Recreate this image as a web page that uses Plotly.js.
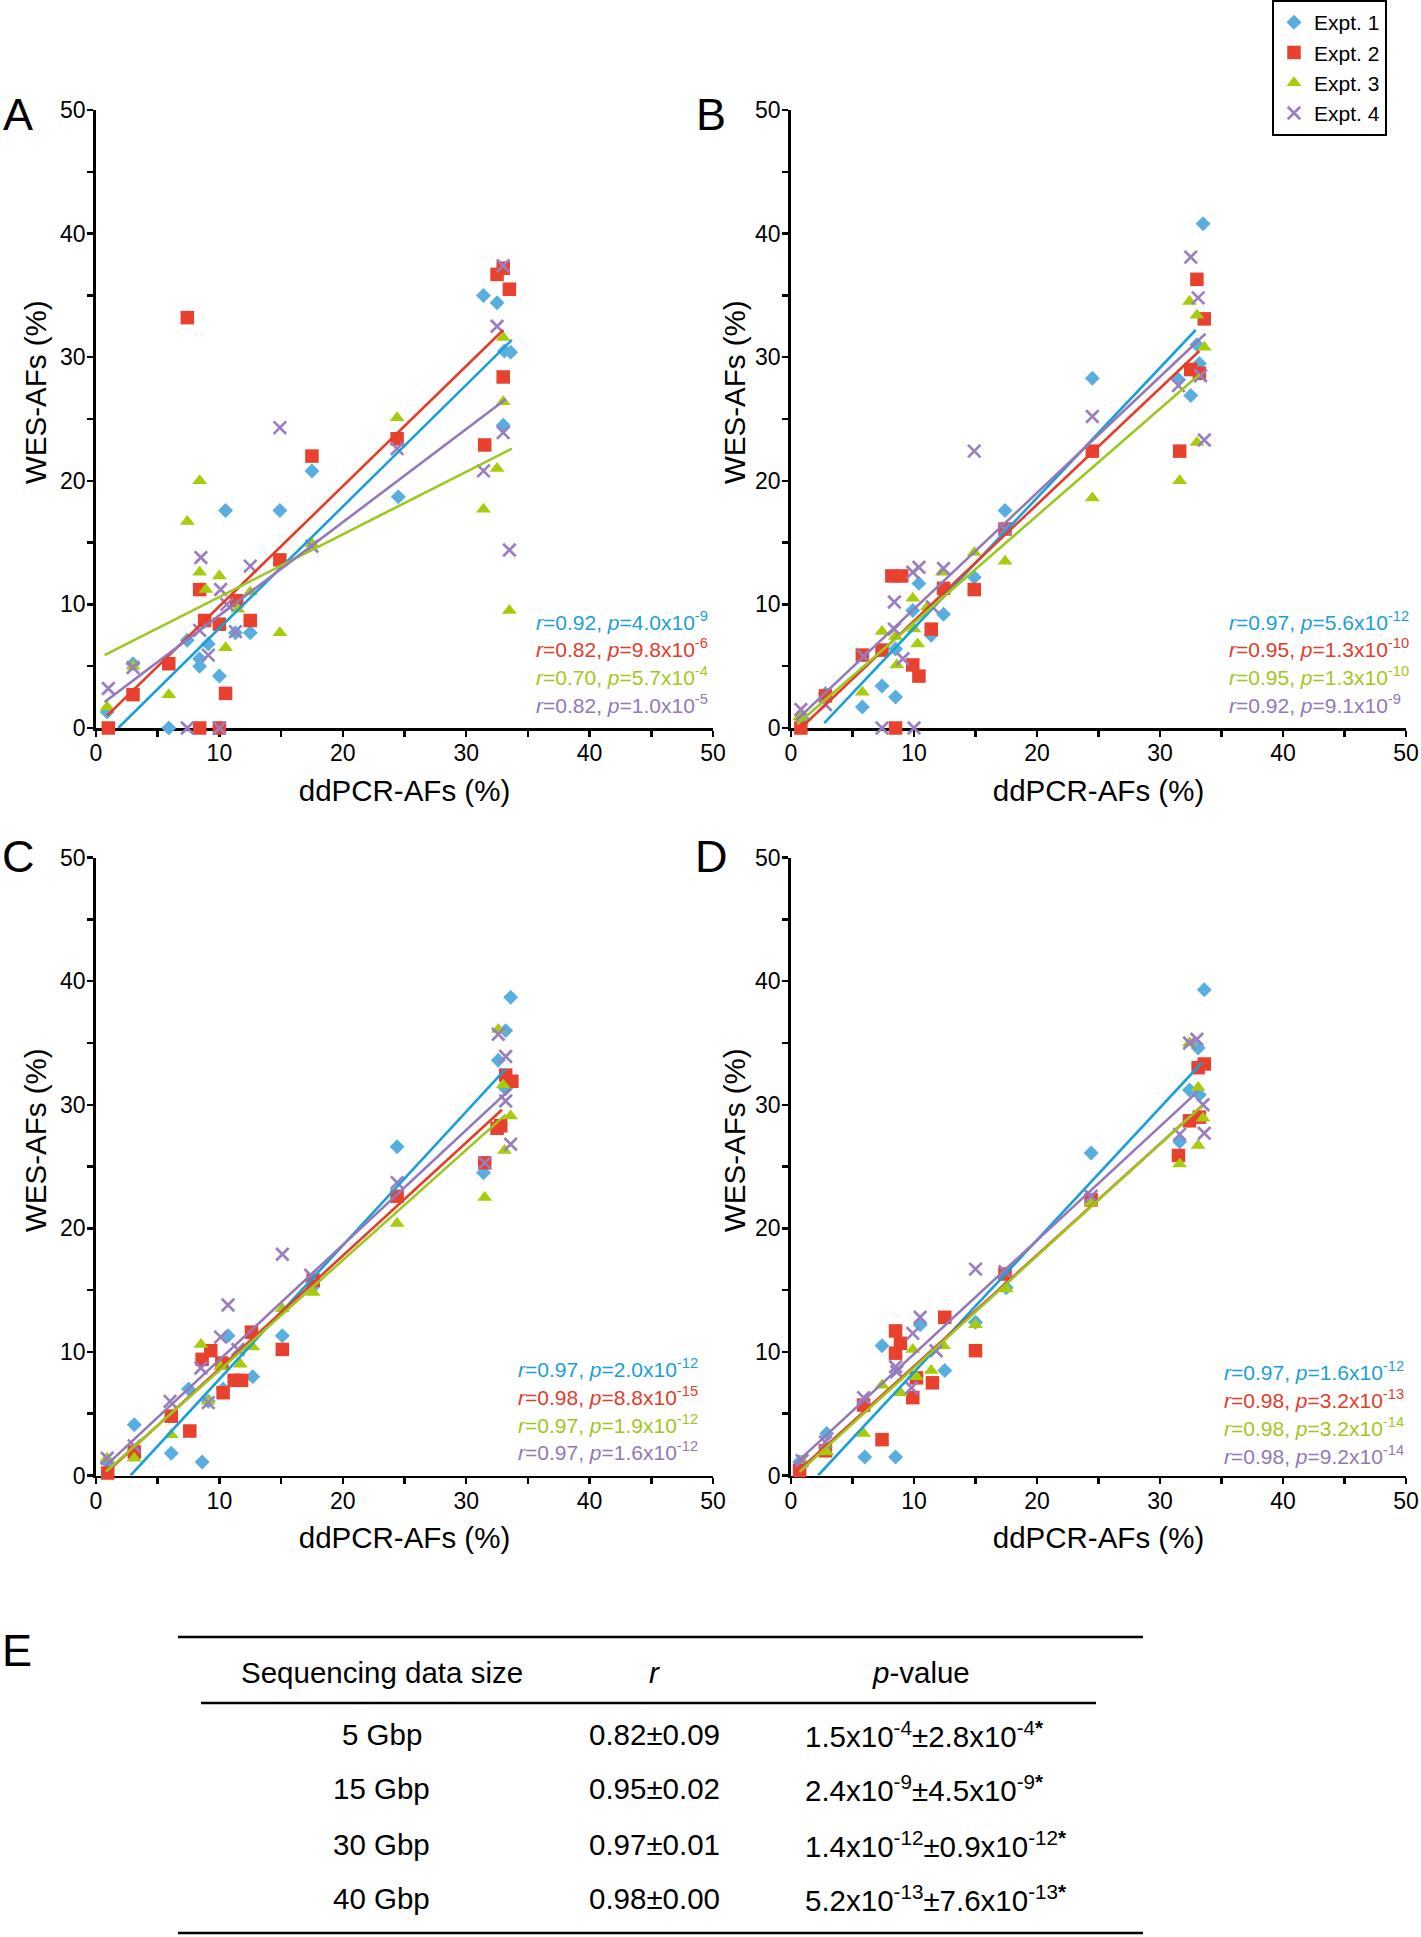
<!DOCTYPE html>
<html><head><meta charset="utf-8">
<script src="https://cdn.plot.ly/plotly-3.0.1.min.js"></script>
<style>html,body{margin:0;padding:0;background:#fff}#chart{width:1421px;height:1937px}</style>
</head><body><div id="chart"></div>
<script>
// ---------------- DATA ----------------
const exptNames = ['Expt. 1', 'Expt. 2', 'Expt. 3', 'Expt. 4'];

// Panel A (5 Gbp)
const A_x1 = [0.9, 3.0, 5.9, 7.4, 8.4, 8.4, 9.1, 10.0, 10.5, 11.3, 12.5, 14.9, 17.5, 24.5, 31.4, 32.5, 33.1, 33.6, 33.0];
const A_y1 = [1.3, 5.2, 0.0, 7.1, 5.6, 5.0, 6.8, 4.2, 17.6, 7.7, 7.7, 17.6, 20.8, 18.7, 35.0, 34.4, 30.5, 30.4, 24.5];
const A_x2 = [1.0, 3.0, 5.9, 7.4, 8.4, 8.4, 8.8, 10.0, 10.0, 10.5, 11.4, 12.5, 14.9, 17.5, 24.4, 32.5, 33.0, 33.5, 33.0, 31.5];
const A_y2 = [0.0, 2.7, 5.2, 33.2, 11.2, 0.0, 8.7, 8.4, 0.0, 2.8, 10.3, 8.7, 13.6, 22.0, 23.4, 36.7, 37.2, 35.5, 28.4, 22.9];
const A_x3 = [0.9, 3.0, 5.9, 7.4, 8.4, 8.4, 8.9, 10.0, 10.5, 11.5, 12.5, 14.9, 17.5, 24.4, 33.0, 33.0, 32.5, 31.4, 33.5];
const A_y3 = [1.7, 5.0, 2.7, 16.7, 20.0, 12.6, 11.2, 12.3, 6.5, 9.6, 11.0, 7.7, 14.9, 25.1, 31.6, 26.4, 21.0, 17.7, 9.5];
const A_x4 = [1.0, 3.0, 7.4, 8.5, 8.4, 9.1, 10.1, 10.6, 11.3, 12.5, 10.0, 14.9, 17.5, 24.4, 33.0, 32.5, 33.0, 31.4, 33.5];
const A_y4 = [3.2, 4.9, 0.0, 13.8, 7.9, 5.9, 11.2, 10.0, 7.8, 13.1, 0.0, 24.3, 14.7, 22.6, 37.4, 32.5, 23.9, 20.8, 14.4];
// regression line end points [x0, x1], [y0, y1]
const A_fitX = [[1.8, 33.7], [0.9, 33.0], [0.7, 33.7], [0.7, 33.2]];
const A_fitY = [[0.0, 31.4], [1.0, 32.2], [5.9, 22.6], [2.1, 26.6]];
const A_r = ['0.92', '0.82', '0.70', '0.82'];
const A_pMant = ['4.0', '9.8', '5.7', '1.0'];
const A_pExp = ['-9', '-6', '-4', '-5'];

// Panel B (15 Gbp)
const B_x1 = [0.9, 2.8, 5.8, 7.4, 8.5, 8.5, 9.9, 10.4, 11.4, 12.4, 14.9, 17.4, 24.5, 33.5, 33.0, 33.2, 31.5, 32.5];
const B_y1 = [0.8, 2.8, 1.7, 3.4, 2.5, 6.4, 9.5, 11.7, 7.5, 9.2, 12.2, 17.6, 28.3, 40.8, 31.0, 29.5, 28.2, 26.9];
const B_x2 = [0.8, 2.8, 5.8, 7.4, 8.2, 9.0, 8.5, 9.9, 10.4, 11.4, 12.4, 14.9, 17.4, 24.5, 33.0, 33.6, 32.5, 33.2, 31.6];
const B_y2 = [0.0, 2.6, 5.9, 6.3, 12.3, 12.3, 0.0, 5.1, 4.2, 8.0, 11.3, 11.2, 16.1, 22.4, 36.3, 33.1, 29.0, 28.7, 22.4];
const B_x3 = [0.7, 5.8, 7.4, 8.5, 8.6, 9.9, 10.0, 10.3, 11.1, 12.3, 14.9, 17.4, 24.5, 32.4, 33.0, 33.6, 33.0, 31.6];
const B_y3 = [0.9, 2.9, 7.8, 7.4, 5.1, 10.5, 8.0, 6.8, 9.8, 12.6, 14.2, 13.5, 18.6, 34.5, 33.4, 30.8, 23.1, 20.0];
const B_x4 = [0.8, 2.8, 5.9, 7.4, 8.4, 8.4, 9.1, 9.9, 10.4, 10.0, 11.5, 12.4, 14.9, 17.4, 24.5, 32.5, 33.1, 33.3, 31.5, 33.6];
const B_y4 = [1.5, 1.9, 5.8, 0.0, 10.2, 8.0, 5.6, 12.6, 13.0, 0.0, 9.8, 12.9, 22.4, 16.1, 25.2, 38.1, 34.8, 28.5, 27.7, 23.3];
const B_fitX = [[2.7, 32.9], [0.8, 33.2], [0.5, 33.2], [0.4, 33.7]];
const B_fitY = [[0.4, 32.2], [0.0, 30.5], [0.3, 28.6], [0.6, 31.9]];
const B_r = ['0.97', '0.95', '0.95', '0.92'];
const B_pMant = ['5.6', '1.3', '1.3', '9.1'];
const B_pExp = ['-12', '-10', '-10', '-9'];

// Panel C (30 Gbp)
const C_x1 = [0.9, 3.1, 6.1, 7.5, 8.6, 9.1, 10.3, 10.7, 12.7, 15.1, 17.6, 24.4, 33.6, 33.2, 32.6, 33.2, 31.4];
const C_y1 = [1.1, 4.1, 1.8, 7.0, 1.1, 6.0, 7.0, 11.3, 8.0, 11.3, 15.3, 26.6, 38.7, 36.0, 33.6, 31.3, 24.5];
const C_x2 = [0.95, 3.1, 6.1, 7.6, 8.6, 9.3, 10.2, 10.3, 11.2, 11.8, 12.6, 15.1, 17.6, 24.4, 33.2, 33.7, 32.5, 32.8, 31.5];
const C_y2 = [0.2, 1.9, 4.8, 3.6, 9.4, 10.1, 9.1, 6.7, 7.7, 7.7, 11.6, 10.2, 15.8, 22.6, 32.4, 31.9, 28.1, 28.3, 25.3];
const C_x3 = [0.9, 3.1, 6.1, 8.5, 9.1, 10.1, 11.7, 12.7, 15.1, 17.6, 24.4, 32.6, 33.0, 33.6, 33.1, 31.5];
const C_y3 = [1.4, 1.4, 3.3, 10.6, 6.0, 8.8, 9.0, 10.4, 13.5, 14.8, 20.4, 36.1, 31.6, 29.1, 26.3, 22.5];
const C_x4 = [0.9, 3.1, 6.0, 8.5, 9.1, 10.1, 10.7, 11.5, 15.1, 17.4, 24.4, 32.6, 33.2, 33.2, 33.6, 31.5];
const C_y4 = [1.4, 2.4, 6.0, 8.7, 5.9, 11.2, 13.8, 10.2, 17.9, 16.2, 23.7, 35.7, 33.9, 30.3, 26.8, 25.3];
const C_fitX = [[2.8, 33.2], [0.8, 32.9], [0.8, 33.2], [0.8, 33.6]];
const C_fitY = [[0.0, 32.9], [0.2, 29.6], [0.3, 29.2], [0.8, 31.3]];
const C_r = ['0.97', '0.98', '0.97', '0.97'];
const C_pMant = ['2.0', '8.8', '1.9', '1.6'];
const C_pExp = ['-12', '-15', '-12', '-12'];

// Panel D (40 Gbp)
const D_x1 = [0.7, 2.9, 6.0, 7.4, 8.5, 10.5, 12.5, 15.0, 17.5, 24.4, 33.6, 33.1, 32.4, 33.2, 31.6];
const D_y1 = [1.1, 3.4, 1.5, 10.5, 1.5, 12.2, 8.5, 12.4, 15.2, 26.1, 39.3, 34.6, 31.2, 30.8, 27.0];
const D_x2 = [0.7, 2.8, 5.9, 7.4, 8.5, 8.9, 8.5, 9.9, 10.2, 11.5, 12.5, 15.0, 17.4, 24.4, 33.6, 33.1, 32.4, 33.2, 31.5];
const D_y2 = [0.4, 2.0, 5.7, 2.9, 11.7, 10.7, 9.9, 6.3, 7.9, 7.5, 12.8, 10.1, 16.3, 22.3, 33.3, 33.0, 28.7, 29.0, 25.9];
const D_x3 = [0.9, 2.9, 5.9, 7.4, 8.9, 9.9, 10.2, 11.4, 12.4, 15.0, 17.5, 24.4, 32.4, 33.1, 33.5, 33.1, 31.6];
const D_y3 = [1.2, 1.9, 3.4, 7.3, 6.7, 10.2, 8.0, 8.5, 10.5, 12.2, 15.1, 22.1, 35.0, 31.4, 28.9, 26.7, 25.2];
const D_x4 = [0.9, 2.8, 5.9, 8.5, 8.6, 9.9, 10.5, 9.8, 11.8, 15.0, 17.4, 24.4, 32.4, 33.0, 33.5, 33.6, 31.6];
const D_y4 = [1.2, 2.7, 6.3, 8.8, 8.4, 11.5, 12.8, 7.1, 10.1, 16.7, 16.5, 22.6, 35.0, 35.3, 30.0, 27.7, 27.6];
const D_fitX = [[2.2, 33.4], [0.3, 33.4], [0.7, 33.4], [0.3, 33.1]];
const D_fitY = [[0.0, 33.4], [0.1, 29.9], [0.3, 29.9], [0.9, 31.1]];
const D_r = ['0.97', '0.98', '0.98', '0.98'];
const D_pMant = ['1.6', '3.2', '3.2', '9.2'];
const D_pExp = ['-12', '-13', '-14', '-14'];

// Table E
const tableHeaders = ['Sequencing data size', '<i>r</i>', '<i>p</i>-value'];
const tableSizes = ['5 Gbp', '15 Gbp', '30 Gbp', '40 Gbp'];
const tableR = ['0.82±0.09', '0.95±0.02', '0.97±0.01', '0.98±0.00'];
const tablePMeanMant = ['1.5', '2.4', '1.4', '5.2'];
const tablePMeanExp = ['-4', '-9', '-12', '-13'];
const tablePSdMant = ['2.8', '4.5', '0.9', '7.6'];
const tablePSdExp = ['-4', '-9', '-12', '-13'];

const axisRange = [0, 50];
const axisMajorStep = 10;
const axisMinorStep = 5;

// ---------------- STYLE / LAYOUT ----------------
const W = 1421, H = 1937;
const FONT = 'Arial, "Liberation Sans", Helvetica, sans-serif';
const px = v => v / W;
const py = v => 1 - v / H;

const markerStyles = [
  {symbol: 'diamond', size: 11.5, color: '#58AEDF', line: {width: 0}},
  {symbol: 'square', size: 13.5, color: '#E8412E', line: {width: 0}},
  {symbol: 'triangle-up', size: 13, color: '#A6CC0C', line: {width: 0}},
  {symbol: 'x-thin-open', size: 12.5, color: '#9A7EC0', line: {width: 2.7, color: '#9A7EC0'}}
];
const lineColors = ['#1AA0D8', '#E63C2A', '#9CC81E', '#9479BA'];
const textColors = ['#1C9ED6', '#E63B2A', '#A2C71C', '#9378B8'];

const panels = [
  {xs: [A_x1, A_x2, A_x3, A_x4], ys: [A_y1, A_y2, A_y3, A_y4], fx: A_fitX, fy: A_fitY, r: A_r, pm: A_pMant, pe: A_pExp,
   xa: 'x', ya: 'y', xdom: [96, 713], ydom: [728, 110], label: 'A', labelPos: [18, 114], statX: 534, statY: [621, 648, 676, 704], ytitle: [35, 392]},
  {xs: [B_x1, B_x2, B_x3, B_x4], ys: [B_y1, B_y2, B_y3, B_y4], fx: B_fitX, fy: B_fitY, r: B_r, pm: B_pMant, pe: B_pExp,
   xa: 'x2', ya: 'y2', xdom: [791, 1406], ydom: [728, 110], label: 'B', labelPos: [711, 114], statX: 1227, statY: [621, 648, 676, 704], ytitle: [734, 392]},
  {xs: [C_x1, C_x2, C_x3, C_x4], ys: [C_y1, C_y2, C_y3, C_y4], fx: C_fitX, fy: C_fitY, r: C_r, pm: C_pMant, pe: C_pExp,
   xa: 'x3', ya: 'y3', xdom: [96, 713], ydom: [1475.5, 857.6], label: 'C', labelPos: [18, 856], statX: 516, statY: [1368, 1396, 1424, 1451], ytitle: [35, 1140]},
  {xs: [D_x1, D_x2, D_x3, D_x4], ys: [D_y1, D_y2, D_y3, D_y4], fx: D_fitX, fy: D_fitY, r: D_r, pm: D_pMant, pe: D_pExp,
   xa: 'x4', ya: 'y4', xdom: [791, 1406], ydom: [1475.5, 857.6], label: 'D', labelPos: [711, 856], statX: 1222, statY: [1371, 1399, 1427, 1455], ytitle: [734, 1140]}
];

const traces = [];
const annotations = [];
const layout = {
  width: W, height: H,
  margin: {l: 0, r: 0, t: 0, b: 0, pad: 0},
  paper_bgcolor: '#fff', plot_bgcolor: 'rgba(0,0,0,0)',
  showlegend: true,
  legend: {x: px(1272), y: 1, xanchor: 'left', yanchor: 'top', bordercolor: '#000', borderwidth: 2,
           bgcolor: '#fff', font: {family: FONT, size: 21, color: '#000'}, tracegroupgap: 0, itemwidth: 30},
  font: {family: FONT, color: '#000'},
  shapes: [],
  annotations: annotations
};

function axisBase(dom, isX) {
  const ax = {
    domain: dom, range: axisRange, autorange: false, fixedrange: true,
    tick0: 0, dtick: axisMajorStep,
    ticks: 'outside', ticklen: 6, tickwidth: 2.5, tickcolor: '#000',
    minor: {tick0: 0, dtick: axisMinorStep, ticks: 'outside', ticklen: 6, tickwidth: 2.5, tickcolor: '#000', showgrid: false},
    showline: true, linewidth: 2.8, linecolor: '#000',
    showgrid: false, zeroline: false, layer: 'below traces',
    ticklabelstandoff: isX ? -3 : -3,
    tickfont: {family: FONT, size: 23, color: '#000'}
  };
  if (isX) ax.title = {text: 'ddPCR-AFs (%)', font: {family: FONT, size: 29.5, color: '#000'}, standoff: 15};
  return ax;
}

panels.forEach((p, pi) => {
  const xk = p.xa === 'x' ? 'xaxis' : 'xaxis' + p.xa.slice(1);
  const yk = p.ya === 'y' ? 'yaxis' : 'yaxis' + p.ya.slice(1);
  const xax = axisBase([px(p.xdom[0]), px(p.xdom[1])], true);
  xax.anchor = p.ya;
  const yax = axisBase([py(p.ydom[0]), py(p.ydom[1])], false);
  yax.anchor = p.xa;
  layout[xk] = xax;
  layout[yk] = yax;

  for (let e = 0; e < 4; e++) {
    const ms = markerStyles[e];
    traces.push({
      type: 'scatter', mode: 'markers', x: p.xs[e], y: p.ys[e], xaxis: p.xa, yaxis: p.ya,
      name: exptNames[e], legendgroup: exptNames[e], showlegend: pi === 0,
      cliponaxis: false, hoverinfo: 'skip',
      marker: {symbol: ms.symbol, size: ms.size, color: ms.color, line: ms.line, opacity: 1}
    });
  }
  for (let e = 0; e < 4; e++) {
    traces.push({
      type: 'scatter', mode: 'lines', x: p.fx[e], y: p.fy[e], xaxis: p.xa, yaxis: p.ya,
      showlegend: false, hoverinfo: 'skip', cliponaxis: false,
      line: {color: lineColors[e], width: 2.6}
    });
    annotations.push({
      xref: 'paper', yref: 'paper', x: px(p.statX), y: py(p.statY[e]), xanchor: 'left', yanchor: 'middle',
      showarrow: false, align: 'left',
      text: '<i>r</i>=' + p.r[e] + ', <i>p</i>=' + p.pm[e] + 'x10<sup>' + p.pe[e] + '</sup>',
      font: {family: FONT, size: 21, color: textColors[e]}
    });
  }
  // y-axis title (placed like the reference, slightly above the axis centre)
  annotations.push({
    xref: 'paper', yref: 'paper', x: px(p.ytitle[0]), y: py(p.ytitle[1]), xanchor: 'center', yanchor: 'middle',
    textangle: -90, showarrow: false, text: 'WES-AFs (%)', font: {family: FONT, size: 29.5, color: '#000'}
  });
  annotations.push({
    xref: 'paper', yref: 'paper', x: px(p.labelPos[0]), y: py(p.labelPos[1]), xanchor: 'center', yanchor: 'middle',
    showarrow: false, text: p.label, font: {family: FONT, size: 45, color: '#000'}
  });
});

// ---------------- TABLE E ----------------
annotations.push({xref: 'paper', yref: 'paper', x: px(17), y: py(1650), xanchor: 'center', yanchor: 'middle',
  showarrow: false, text: 'E', font: {family: FONT, size: 45, color: '#000'}});
const tFont = {family: FONT, size: 29.5, color: '#000'};
const colCenters = [382, 654, 921];
tableHeaders.forEach((h, i) => {
  annotations.push({xref: 'paper', yref: 'paper', x: px(colCenters[i]), y: py(1672), xanchor: 'center', yanchor: 'middle',
    showarrow: false, text: h, font: tFont});
});
const rowY = [1734, 1788, 1844, 1898];
tableSizes.forEach((s, i) => {
  annotations.push({xref: 'paper', yref: 'paper', x: px(colCenters[0]), y: py(rowY[i]), xanchor: 'center', yanchor: 'middle',
    showarrow: false, text: s, font: tFont});
  annotations.push({xref: 'paper', yref: 'paper', x: px(colCenters[1]), y: py(rowY[i]), xanchor: 'center', yanchor: 'middle',
    showarrow: false, text: tableR[i], font: tFont});
  annotations.push({xref: 'paper', yref: 'paper', x: px(803), y: py(rowY[i]), xanchor: 'left', yanchor: 'middle',
    showarrow: false, align: 'left',
    text: tablePMeanMant[i] + 'x10<sup>' + tablePMeanExp[i] + '</sup>±' + tablePSdMant[i] + 'x10<sup>' + tablePSdExp[i] + '</sup><sup><b>*</b></sup>',
    font: tFont});
});
function hline(x0, x1, y, w) {
  layout.shapes.push({type: 'line', xref: 'paper', yref: 'paper', x0: px(x0), x1: px(x1), y0: py(y), y1: py(y),
    line: {color: '#000', width: w}});
}
hline(178, 1143, 1637, 2.5);
hline(201, 1096, 1703, 2.5);
hline(178, 1143, 1933, 2.5);

Plotly.newPlot('chart', traces, layout, {staticPlot: true, displayModeBar: false});
</script>
</body></html>
